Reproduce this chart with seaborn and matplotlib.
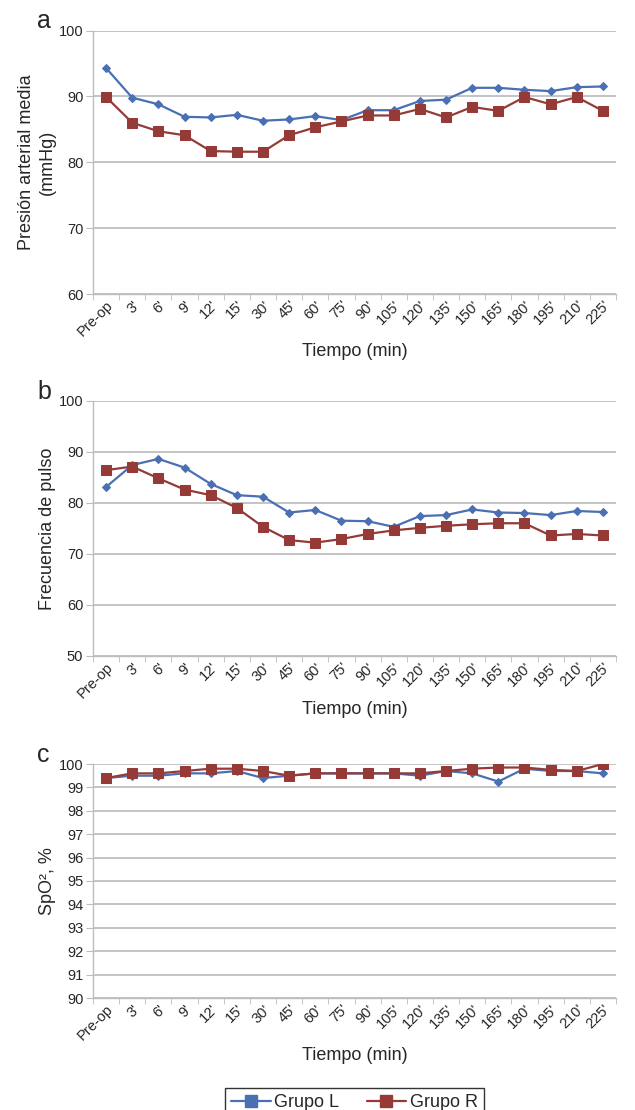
'''Presion arterial, pulso y SpO2 por grupo'''
import numpy as np
import pandas as pd
import matplotlib
matplotlib.use('Agg')
import matplotlib.pyplot as plt
from matplotlib.lines import Line2D
from matplotlib.ticker import FixedLocator
import seaborn as sns

tiempo = ["Pre-op", "3'", "6'", "9'", "12'", "15'", "30'", "45'", "60'", "75'",
          "90'", "105'", "120'", "135'", "150'", "165'", "180'", "195'", "210'", "225'"]

pam_l = [94.3, 89.8, 88.8, 86.9, 86.8, 87.2, 86.3, 86.5, 87.0, 86.4,
         87.9, 87.9, 89.3, 89.5, 91.3, 91.3, 91.0, 90.8, 91.4, 91.5]
pam_r = [89.9, 86.0, 84.7, 84.1, 81.7, 81.6, 81.6, 84.1, 85.3, 86.2,
         87.1, 87.1, 88.1, 86.8, 88.4, 87.8, 89.9, 88.8, 89.9, 87.8]

pulso_l = [83.1, 87.4, 88.6, 86.9, 83.7, 81.5, 81.2, 78.1, 78.6, 76.5,
           76.4, 75.3, 77.4, 77.6, 78.7, 78.1, 78.0, 77.6, 78.4, 78.2]
pulso_r = [86.4, 87.1, 84.8, 82.6, 81.5, 79.0, 75.3, 72.7, 72.2, 72.9,
           73.9, 74.6, 75.1, 75.5, 75.8, 76.0, 76.0, 73.6, 73.9, 73.6]

spo2_l = [99.4, 99.5, 99.5, 99.6, 99.6, 99.7, 99.4, 99.5, 99.6, 99.6,
          99.6, 99.6, 99.5, 99.7, 99.6, 99.25, 99.8, 99.7, 99.7, 99.6]
spo2_r = [99.4, 99.6, 99.6, 99.7, 99.8, 99.8, 99.7, 99.5, 99.6, 99.6,
          99.6, 99.6, 99.6, 99.7, 99.8, 99.85, 99.85, 99.75, 99.7, 100.0]

grupos = ['Grupo L', 'Grupo R']
colores = {'Grupo L': '#4a6fb3', 'Grupo R': '#963a38'}
marcas = {'Grupo L': ('D', 4.5), 'Grupo R': ('s', 7.5)}


def main():
    '''
    main
    '''
    sns.set_style('white')
    plt.rcParams['font.family'] = ['Liberation Sans', 'DejaVu Sans']

    fig = plt.figure(figsize=(6.35, 11.1), dpi=100)
    W, H = 635, 1110
    left, right = 93, 616

    paneles = [
        ('a', pam_l, pam_r, 'Presión arterial media\n(mmHg)', (60, 100), 10,
         30.5, 294, 352, 37),
        ('b', pulso_l, pulso_r, 'Frecuencia de pulso', (50, 100), 10,
         400.7, 656, 710, 48),
        ('c', spo2_l, spo2_r, 'SpO², %', (90, 100), 1,
         764, 998, 1055, 47),
    ]

    for letra, serie_l, serie_r, ylab, ylim, paso, top, bot, xlab_y, ylab_x in paneles:
        ax = fig.add_axes([left / W, 1 - bot / H, (right - left) / W, (bot - top) / H])
        df = pd.DataFrame({
            'Tiempo': tiempo * 2,
            'Valor': serie_l + serie_r,
            'Grupo': ['Grupo L'] * len(tiempo) + ['Grupo R'] * len(tiempo),
        })
        for g in grupos:
            m, ms = marcas[g]
            sns.lineplot(data=df[df['Grupo'] == g], x='Tiempo', y='Valor',
                         color=colores[g], marker=m, markersize=ms,
                         markeredgecolor=colores[g], linewidth=1.6,
                         sort=False, legend=False, ax=ax, zorder=3)
        ax.set_xlim(-0.5, len(tiempo) - 0.5)
        ax.set_ylim(*ylim)
        ax.set_yticks(np.arange(ylim[0], ylim[1] + paso / 2, paso))
        ax.yaxis.grid(True, color='#c4c4c4', linewidth=1.4)
        ax.xaxis.grid(False)
        for s in ['top', 'right']:
            ax.spines[s].set_visible(False)
        for s in ['left', 'bottom']:
            ax.spines[s].set_color('#bdbdbd')
            ax.spines[s].set_linewidth(1.0)
        ax.tick_params(axis='y', length=5, color='#bdbdbd', labelsize=10.5, pad=2,
                       left=True)
        ax.tick_params(axis='x', which='major', length=0, labelsize=10.5, pad=3)
        ax.xaxis.set_minor_locator(FixedLocator(np.arange(-0.5, len(tiempo), 1)))
        ax.tick_params(axis='x', which='minor', length=4, color='#bdbdbd',
                       bottom=True)
        plt.setp(ax.get_xticklabels(), rotation=45, ha='right',
                 rotation_mode='anchor')
        ax.set_xlabel('')
        ax.set_ylabel('')
        fig.text(ylab_x / W, 1 - (top + bot) / 2 / H, ylab, rotation=90,
                 ha='center', va='center', fontsize=13, linespacing=1.3)
        fig.text((left + right) / 2 / W, 1 - xlab_y / H, 'Tiempo (min)',
                 ha='center', va='center', fontsize=13)
        fig.text(37 / W, 1 - (top - 2) / H, letra, ha='left', va='baseline',
                 fontsize=18)

    handles = [Line2D([], [], color=colores[g], marker='s', markersize=8,
                      linewidth=1.6) for g in grupos]
    leg = fig.legend(handles, grupos, loc='upper center', ncol=2,
                     bbox_to_anchor=((left + right) / 2 / W, 1 - 1079 / H),
                     frameon=True, fancybox=False, fontsize=13,
                     handlelength=2.2, columnspacing=1.5, handletextpad=0.2,
                     borderpad=0.35)
    leg.get_frame().set_edgecolor('black')
    leg.get_frame().set_linewidth(1.0)

    fig.savefig('out.png', dpi=100)


if __name__ == '__main__':
    main()
